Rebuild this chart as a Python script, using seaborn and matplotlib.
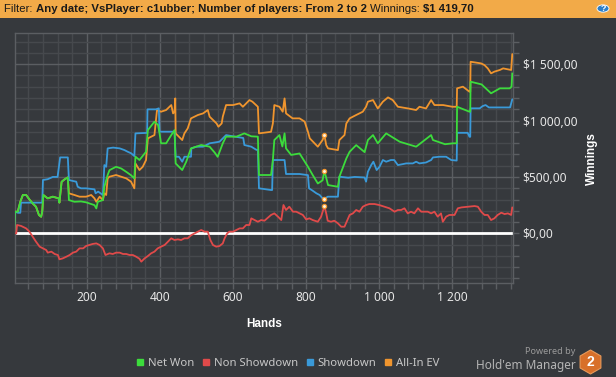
import numpy as np
import pandas as pd
import seaborn as sns
import matplotlib
matplotlib.use("Agg")
import matplotlib.pyplot as plt
from matplotlib.ticker import FixedLocator, MultipleLocator, FuncFormatter
from matplotlib.lines import Line2D
from matplotlib.patches import Rectangle, RegularPolygon, Circle

# ---------------- data ----------------
net_h = [1, 3, 11, 18, 25, 34, 43, 52, 61, 69, 75, 78, 81, 93, 107, 123, 125, 131, 139, 148,
         151, 166, 184, 198, 221, 226, 230, 244, 248, 257, 262, 280, 294, 308, 321, 330, 333,
         344, 362, 367, 385, 395, 399, 403, 417, 431, 440, 443, 461, 472, 485, 513, 536, 550,
         558, 572, 581, 609, 631, 650, 668, 671, 704, 709, 713, 727, 735, 741, 745, 759, 782,
         805, 818, 832, 845, 850, 860, 887, 891, 910, 919, 937, 960, 969, 983, 996, 1019, 1056,
         1101, 1142, 1147, 1180, 1202, 1212, 1213, 1247, 1249, 1250, 1280, 1306, 1330, 1357,
         1362, 1364]
net_v = [0, 192, 192, 280, 340, 340, 300, 265, 236, 162, 147, 192, 340, 310, 325, 310, 272,
         457, 478, 496, 295, 280, 283, 275, 250, 221, 280, 295, 413, 517, 560, 590, 575, 545,
         515, 487, 680, 650, 723, 915, 990, 960, 885, 798, 798, 871, 915, 620, 561, 635, 753,
         783, 768, 715, 678, 798, 857, 857, 886, 860, 857, 517, 517, 650, 827, 871, 770, 886,
         753, 695, 708, 590, 517, 442, 470, 555, 428, 413, 502, 664, 723, 782, 720, 827, 871,
         798, 886, 812, 768, 871, 827, 790, 798, 798, 1122, 1078, 1078, 1344, 1320, 1241, 1285,
         1285, 1300, 1418]

sd_h = [1, 3, 12, 18, 20, 78, 80, 93, 107, 120, 127, 148, 151, 162, 171, 175, 184, 198, 221,
        224, 231, 244, 248, 253, 257, 272, 290, 303, 312, 321, 330, 333, 362, 365, 366, 389,
        397, 399, 436, 440, 443, 452, 461, 467, 485, 486, 500, 518, 536, 563, 581, 600, 628,
        631, 650, 664, 668, 671, 704, 707, 709, 741, 745, 782, 805, 808, 818, 828, 837, 845,
        850, 859, 887, 891, 915, 933, 960, 964, 969, 978, 984, 993, 1001, 1010, 1019, 1032,
        1041, 1051, 1065, 1074, 1092, 1101, 1110, 1128, 1142, 1147, 1165, 1183, 1197, 1212,
        1213, 1242, 1247, 1249, 1250, 1275, 1283, 1291, 1300, 1330, 1358, 1364]
sd_v = [0, 192, 182, 182, 272, 272, 473, 480, 500, 500, 673, 673, 473, 464, 458, 413, 399,
        399, 390, 355, 370, 340, 605, 590, 753, 760, 753, 738, 723, 710, 685, 886, 890, 890,
        1099, 1099, 1108, 901, 901, 901, 679, 679, 635, 679, 679, 753, 768, 768, 798, 812, 871,
        860, 845, 783, 768, 740, 740, 399, 384, 384, 650, 650, 526, 526, 516, 399, 378, 355,
        340, 310, 304, 325, 325, 502, 493, 500, 495, 458, 546, 605, 635, 561, 591, 650, 635,
        650, 650, 605, 614, 620, 620, 635, 620, 628, 650, 673, 679, 679, 650, 645, 891, 891,
        856, 856, 1108, 1108, 1128, 1137, 1116, 1116, 1116, 1188]

ev_h = [1, 3, 11, 18, 25, 34, 43, 52, 61, 69, 75, 78, 81, 93, 107, 123, 125, 131, 139, 148,
        151, 166, 180, 198, 212, 221, 226, 235, 244, 248, 253, 257, 262, 280, 294, 308, 321,
        330, 333, 344, 353, 362, 367, 385, 392, 403, 417, 431, 436, 440, 442, 443, 461, 467,
        476, 485, 504, 518, 531, 536, 555, 560, 569, 572, 581, 600, 618, 627, 645, 653, 668,
        671, 704, 709, 713, 727, 736, 741, 745, 763, 782, 796, 805, 810, 832, 845, 850, 855,
        860, 887, 891, 905, 910, 919, 937, 955, 964, 969, 983, 996, 1010, 1024, 1037, 1051,
        1079, 1101, 1110, 1128, 1142, 1151, 1175, 1200, 1212, 1213, 1229, 1247, 1249, 1250,
        1279, 1288, 1297, 1306, 1315, 1330, 1339, 1361, 1364]
ev_v = [0, 192, 192, 280, 340, 340, 300, 265, 236, 162, 147, 192, 340, 310, 325, 310, 272,
        457, 478, 496, 355, 340, 325, 325, 340, 310, 280, 325, 295, 355, 340, 487, 502, 517,
        502, 487, 458, 399, 620, 561, 590, 650, 842, 871, 1093, 1078, 1093, 1137, 1063, 1078,
        1196, 886, 827, 886, 930, 1019, 1049, 1063, 1093, 1034, 974, 945, 974, 1034, 1137,
        1137, 1152, 1122, 1181, 1167, 1122, 886, 900, 974, 1137, 1122, 1078, 1196, 1063, 1019,
        1019, 990, 900, 842, 768, 827, 871, 782, 753, 738, 827, 871, 974, 1019, 1049, 1078,
        1122, 1167, 1181, 1107, 1167, 1205, 1181, 1122, 1107, 1093, 1122, 1107, 1181, 1137,
        1137, 1122, 1122, 1285, 1300, 1255, 1255, 1521, 1506, 1491, 1462, 1418, 1433, 1448,
        1462, 1448, 1589]

ns_h = [1, 7, 9, 20, 34, 43, 52, 61, 71, 80, 89, 93, 103, 112, 121, 125, 134, 144, 153, 162,
        171, 180, 190, 198, 207, 216, 226, 235, 244, 251, 262, 271, 280, 290, 299, 308, 317,
        326, 335, 344, 349, 358, 367, 376, 385, 394, 403, 413, 422, 431, 440, 449, 458, 467,
        476, 486, 495, 504, 513, 522, 531, 538, 545, 554, 563, 572, 577, 584, 590, 600, 609,
        618, 627, 636, 645, 650, 659, 668, 677, 686, 704, 713, 723, 732, 738, 745, 754, 764,
        773, 782, 791, 800, 809, 818, 832, 841, 850, 855, 859, 868, 877, 887, 896, 905, 911,
        919, 928, 937, 946, 955, 964, 973, 987, 1000, 1014, 1028, 1042, 1051, 1060, 1069,
        1078, 1087, 1096, 1106, 1115, 1124, 1133, 1142, 1151, 1160, 1169, 1174, 1183, 1192,
        1206, 1215, 1225, 1243, 1261, 1270, 1279, 1288, 1297, 1306, 1315, 1324, 1334, 1343,
        1352, 1361, 1364]
ns_v = [0, 0, 74, 66, 44, 15, -30, -74, -118, -133, -148, -171, -162, -183, -192, -230, -222,
        -207, -192, -171, -162, -133, -133, -112, -103, -94, -89, -103, -133, -192, -177, -183,
        -171, -171, -183, -183, -192, -192, -207, -225, -251, -222, -201, -177, -162, -133,
        -118, -103, -74, -44, -59, -53, -59, -44, -44, -15, 0, 15, 30, 15, 15, -59, -103, -118,
        -112, -89, -44, 0, 15, 15, 30, 44, 44, 74, 74, 133, 118, 103, 118, 112, 163, 177, 148,
        118, 251, 207, 236, 192, 192, 177, 163, 124, 133, 118, 103, 148, 242, 177, 112, 103,
        112, 89, 59, 59, 103, 163, 177, 207, 192, 236, 251, 260, 260, 251, 236, 222, 192, 207,
        207, 222, 177, 192, 177, 222, 192, 192, 192, 177, 192, 148, 177, 103, 148, 163, 163,
        222, 230, 236, 242, 236, 192, 163, 163, 118, 133, 163, 183, 171, 177, 163, 230]

series_names = ["Net Won", "Non Showdown", "Showdown", "All-In EV"]
hover_hand = 850

x_major = [200, 400, 600, 800, 1000, 1200]
y_major = [0, 500, 1000, 1500]

# ---------------- style ----------------
BG = "#36393d"
GRID_MINOR = "#46494d"
GRID_MAJOR = "#5b5e62"
TXT = "#e6e6e6"
colors = {"Net Won": "#3cdc3c", "Non Showdown": "#e04a4a",
          "Showdown": "#3a9ad9", "All-In EV": "#f0952e"}
BOLDFAM = ["Liberation Sans", "DejaVu Sans"]

sns.set_theme(style="dark", rc={"axes.facecolor": BG, "figure.facecolor": BG})
plt.rcParams["font.family"] = ["Noto Sans", "DejaVu Sans"]

frames = []
for name, h, v in [("All-In EV", ev_h, ev_v), ("Showdown", sd_h, sd_v),
                   ("Non Showdown", ns_h, ns_v), ("Net Won", net_h, net_v)]:
    frames.append(pd.DataFrame({"hand": h, "value": v, "series": name}))
df = pd.concat(frames, ignore_index=True)

fig = plt.figure(figsize=(6.16, 3.77), dpi=100, facecolor=BG)
ax = fig.add_axes([15 / 616, 1 - 283 / 377, (513 - 15) / 616, (283 - 33.3) / 377])
ax.set_facecolor(BG)

ax.axhline(0, color="white", lw=2.0, zorder=2)
sns.lineplot(data=df, x="hand", y="value", hue="series",
             hue_order=["All-In EV", "Showdown", "Non Showdown", "Net Won"],
             palette=colors, estimator=None, sort=False, legend=False,
             lw=1.3, ax=ax, zorder=3)

hov = df[df["hand"] == hover_hand]
ax.scatter(hov["hand"], hov["value"], s=9, facecolor="#fff4e0",
           edgecolor="#f0952e", linewidth=0.9, zorder=5)

ax.set_xlim(3.5, 1366)
ax.set_ylim(-440, 1773)

ax.xaxis.set_major_locator(FixedLocator(x_major))
ax.xaxis.set_minor_locator(MultipleLocator(40))
ax.yaxis.set_major_locator(FixedLocator(y_major))
ax.yaxis.set_minor_locator(MultipleLocator(100))


def money(v, pos=None):
    s = f"{abs(v):,.2f}".replace(",", " ").replace(".", ",")
    return "$" + s


ax.yaxis.set_major_formatter(FuncFormatter(money))
ax.xaxis.set_major_formatter(FuncFormatter(lambda v, p: f"{int(v):,}".replace(",", " ")))
ax.yaxis.tick_right()
ax.yaxis.set_label_position("right")

ax.grid(True, which="major", color=GRID_MAJOR, lw=1.0, zorder=0)
ax.grid(True, which="minor", color=GRID_MINOR, lw=1.0, zorder=0)
ax.set_axisbelow(True)
ax.tick_params(axis="both", which="both", direction="out", colors=GRID_MAJOR,
               labelcolor=TXT, labelsize=8.6, length=4, width=1)
ax.tick_params(axis="y", which="both", right=True, left=False, pad=3)
ax.tick_params(axis="x", which="both", bottom=True, pad=1.5)
for sp in ax.spines.values():
    sp.set_color(GRID_MAJOR)
    sp.set_linewidth(1.0)

ax.set_xlabel("Hands", color="white", fontsize=8.5, fontweight="bold", labelpad=10,
              family=BOLDFAM)
ax.set_ylabel("Winnings", color="white", fontsize=8.5, fontweight="bold", labelpad=6,
              family=BOLDFAM)

# ---------------- header bar ----------------
fig.add_artist(Rectangle((0, 1 - 18 / 377), 1, 18 / 377, transform=fig.transFigure,
                         facecolor="#f2aa48", edgecolor="none", zorder=0))
renderer = fig.canvas.get_renderer()
parts = [("Filter: ", "normal"), ("Any date; VsPlayer: c1ubber; Number of players: From 2 to 2 ", "bold"),
         ("Winnings: ", "normal"), ("$1 419,70", "bold")]
xpix = 4.5
for txt, w in parts:
    t = fig.text(xpix / 616, 1 - 8.8 / 377, txt, fontsize=8.2, fontweight=w, color="#1a1a1a",
                 va="center", ha="left", family=BOLDFAM)
    bb = t.get_window_extent(renderer=renderer)
    xpix += bb.width
fig.add_artist(Circle((603 / 616, 1 - 8.5 / 377), 6 / 616, transform=fig.transFigure,
                      facecolor="#2d7fc8", edgecolor="white", lw=0.6))
fig.text(603 / 616, 1 - 8.8 / 377, "?", fontsize=6.5, fontweight="bold", color="white",
         ha="center", va="center", family=BOLDFAM)

# ---------------- legend ----------------
handles = [Line2D([], [], ls="none", marker="s", markersize=5, color=colors[n]) for n in series_names]
leg = fig.legend(handles, series_names, loc="center", bbox_to_anchor=(288 / 616, 1 - 363 / 377),
                 ncol=4, frameon=False, fontsize=8.1, handlelength=0.6, handletextpad=0.4,
                 columnspacing=0.75, labelcolor="#c8c8c8")

# ---------------- branding ----------------
fig.text(575 / 616, 1 - 352 / 377, "Powered by", fontsize=6.5, color="#9a9a9a",
         ha="right", va="center")
fig.text(575.5 / 616, 1 - 365 / 377, "Hold'em Manager", fontsize=8.5, color="#b4b4b4",
         ha="right", va="center")
fig.add_artist(RegularPolygon((5.905, (377 - 362) / 100), numVertices=6, radius=0.12,
                              transform=fig.dpi_scale_trans, facecolor="#d8702a",
                              edgecolor="#e89a5a", lw=0.8))
fig.text(590.5 / 616, 1 - 362 / 377, "2", fontsize=10, fontweight="bold", color="white",
         ha="center", va="center", family=BOLDFAM)

fig.savefig("out.png", dpi=100, facecolor=BG)
